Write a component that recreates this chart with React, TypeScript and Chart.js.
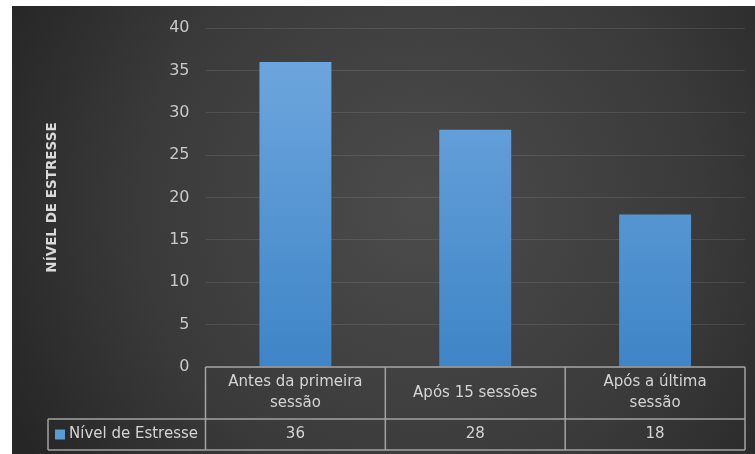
import React, { useEffect, useRef } from "react";
import { Chart, registerables } from "chart.js";

Chart.register(...registerables);

const categories: string[][] = [["Antes da primeira", "sessão"], ["Após 15 sessões"], ["Após a última", "sessão"]];
const seriesLabel = "Nível de Estresse";
const seriesValues = [36, 28, 18];
const axisTitle = "NÍVEL DE ESTRESSE";
const yMin = 0;
const yMax = 40;
const yStep = 5;

const FONT = "'DejaVu Sans', 'Liberation Sans', sans-serif";
const TEXT = "#d4d4d4";
const LINE = "#a3a3a3";

const bgPlugin = {
  id: "bgPanel",
  beforeDraw(chart: any) {
    const { ctx, width, height } = chart;
    ctx.save();
    const g = ctx.createRadialGradient(width * 0.55, height * 0.45, 10, width * 0.55, height * 0.45, width * 0.62);
    g.addColorStop(0, "#4b4b4b");
    g.addColorStop(0.6, "#3a3a3a");
    g.addColorStop(1, "#262626");
    ctx.fillStyle = g;
    ctx.fillRect(0, 0, width, height);
    ctx.restore();
  },
};

const tablePlugin = {
  id: "dataTable",
  afterDraw(chart: any) {
    const { ctx, chartArea } = chart;
    const x = chart.scales.x;
    const n = categories.length;
    const step = n > 1 ? x.getPixelForValue(1) - x.getPixelForValue(0) : chartArea.right - chartArea.left;
    const bounds: number[] = [];
    for (let i = 0; i < n; i++) bounds.push(x.getPixelForValue(i) - step / 2);
    bounds.push(x.getPixelForValue(n - 1) + step / 2);
    const top = chartArea.bottom;
    const mid = top + 52;
    const bottom = mid + 31;
    const legLeft = 36;
    ctx.save();
    ctx.strokeStyle = LINE;
    ctx.lineWidth = 1.5;
    ctx.beginPath();
    ctx.moveTo(bounds[0], top);
    ctx.lineTo(bounds[n], top);
    ctx.moveTo(legLeft, mid);
    ctx.lineTo(bounds[n], mid);
    ctx.moveTo(legLeft, bottom);
    ctx.lineTo(bounds[n], bottom);
    ctx.moveTo(legLeft, mid);
    ctx.lineTo(legLeft, bottom);
    for (const b of bounds) {
      ctx.moveTo(b, top);
      ctx.lineTo(b, bottom);
    }
    ctx.stroke();

    ctx.fillStyle = TEXT;
    ctx.font = `15px ${FONT}`;
    ctx.textAlign = "center";
    ctx.textBaseline = "middle";
    const rowC = (top + mid) / 2;
    categories.forEach((lines, i) => {
      const cx = x.getPixelForValue(i);
      const lh = 21;
      const start = rowC - ((lines.length - 1) * lh) / 2;
      lines.forEach((t, j) => ctx.fillText(t, cx, start + j * lh));
    });
    const valC = (mid + bottom) / 2;
    chart.data.datasets[0].data.forEach((v: number, i: number) => {
      ctx.fillText(String(v), x.getPixelForValue(i), valC);
    });
    ctx.fillStyle = "#5b9bd5";
    ctx.fillRect(legLeft + 7, valC - 5, 10, 10);
    ctx.fillStyle = TEXT;
    ctx.textAlign = "left";
    ctx.fillText(chart.data.datasets[0].label, legLeft + 21, valC);
    ctx.restore();
  },
};

export default function App() {
  const ref = useRef<HTMLCanvasElement>(null);
  useEffect(() => {
    if (!ref.current) return;
    const chart = new Chart(ref.current, {
      type: "bar",
      data: {
        labels: categories.map((c) => c.join(" ")),
        datasets: [
          {
            label: seriesLabel,
            data: seriesValues,
            backgroundColor: (c: any) => {
              const area = c.chart.chartArea;
              if (!area) return "#5b9bd5";
              const g = c.chart.ctx.createLinearGradient(0, area.top, 0, area.bottom);
              g.addColorStop(0, "#72a9e0");
              g.addColorStop(1, "#3e85c7");
              return g;
            },
            borderWidth: 0,
            barPercentage: 0.4,
            categoryPercentage: 1,
          },
        ],
      },
      options: {
        responsive: false,
        animation: false,
        devicePixelRatio: 1,
        layout: { padding: { top: 22, bottom: 87, right: 10, left: 0 } },
        plugins: { legend: { display: false }, tooltip: { enabled: false } },
        scales: {
          x: { display: false },
          y: {
            min: yMin,
            max: yMax,
            afterFit: (s: any) => {
              s.width = 193.5;
            },
            ticks: { stepSize: yStep, color: "#c9c9c9", font: { family: FONT, size: 16 }, padding: 0 },
            grid: { color: "rgba(255,255,255,0.1)", drawTicks: true, tickLength: 16, tickColor: "rgba(0,0,0,0)", lineWidth: 1 },
            border: { display: false },
            title: {
              display: true,
              text: axisTitle,
              color: "#d9d9d9",
              font: { family: FONT, size: 13.5, weight: "bold" },
              padding: { top: 32, bottom: 0 },
            },
          },
        },
      },
      plugins: [bgPlugin, tablePlugin],
    });
    return () => chart.destroy();
  }, []);
  return (
    <div style={{ position: "absolute", left: 12, top: 6, width: 743, height: 448 }}>
      <canvas ref={ref} width={743} height={448} style={{ display: "block", width: 743, height: 448 }} />
    </div>
  );
}
